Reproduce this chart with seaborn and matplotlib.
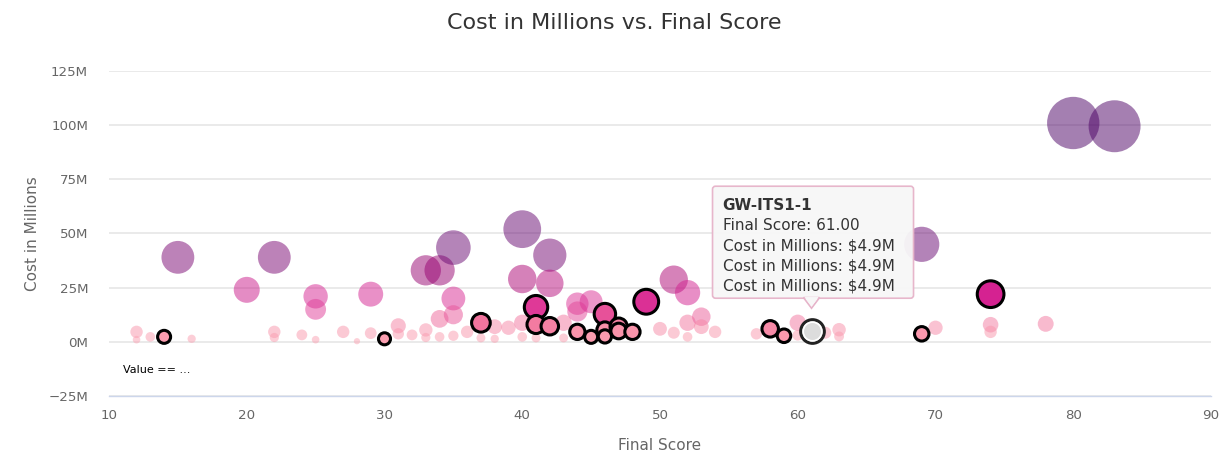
import matplotlib
matplotlib.use("Agg")
import matplotlib.pyplot as plt
import seaborn as sns
import pandas as pd
import numpy as np
from matplotlib.colors import LinearSegmentedColormap
from matplotlib.patches import FancyBboxPatch, Polygon
from matplotlib.ticker import FuncFormatter

# ---------------- data ----------------
score = [12, 12, 13, 15, 16, 20, 22, 22, 22, 24, 25, 25, 25, 27, 28, 29, 29, 31, 31, 32,
         33, 33, 33, 34, 34, 34, 35, 35, 35, 35, 36, 37, 38, 38, 39, 40, 40, 40, 40, 41,
         42, 42, 43, 43, 44, 44, 45, 50, 51, 51, 52, 52, 52, 53, 53, 54, 57, 60, 60, 62,
         63, 63, 69, 70, 74, 74, 78, 80, 83]
cost = [4.6, 1.0, 2.3, 39, 1.4, 24, 39, 4.6, 2.0, 3.2, 21, 15, 1.0, 4.6, 0.3, 22, 4.0, 7.4, 3.7, 3.2,
        33, 5.5, 2.0, 33, 10.6, 2.3, 43.5, 20, 12.5, 2.8, 4.6, 1.8, 7.0, 1.4, 6.5, 52, 29, 8.8, 2.3, 1.8,
        40, 27, 8.8, 1.8, 17.6, 14, 18.5, 6.0, 28.7, 4.2, 22.7, 8.8, 2.3, 11.6, 7.0, 4.6, 3.7, 8.8, 3.0, 4.2,
        5.6, 2.5, 45, 6.5, 7.9, 4.6, 8.3, 101, 99.5]

hl_score = [14, 30, 37, 41, 41, 42, 44, 45, 46, 46, 46, 47, 47, 48, 49, 58, 59, 69, 74]
hl_cost = [2.3, 1.4, 8.8, 16, 8.0, 7.2, 4.6, 2.3, 12.8, 5.5, 2.5, 7.0, 5.0, 4.6, 18.5, 6.0, 2.8, 3.7, 22]

hover_name = "GW-ITS1-1"
hover_score = [61]
hover_cost = [4.9]

y_ticks = [-25, 0, 25, 50, 75, 100, 125]
x_ticks = [10, 20, 30, 40, 50, 60, 70, 80, 90]

title = "Cost in Millions vs. Final Score"
x_title = "Final Score"
y_title = "Cost in Millions"
note_text = "Value == ..."

# ---------------- style ----------------
W, H = 1229, 462
sns.set_style("white")
plt.rcParams["font.family"] = ["DejaVu Sans"]

cmap = LinearSegmentedColormap.from_list("cost", [
    (0.0, "#fba3b3"), (5 / 101, "#f992aa"), (10 / 101, "#ef6a9a"), (15 / 101, "#e03c98"),
    (22 / 101, "#d52191"), (30 / 101, "#a5006f"), (42 / 101, "#6b0a73"), (1.0, "#4b0065")])

fig = plt.figure(figsize=(W / 100, H / 100), dpi=100)
L, R, T, B = 109, 1211, 71, 396
ax = fig.add_axes([L / W, 1 - B / H, (R - L) / W, (B - T) / H])

df = pd.DataFrame({"score": score, "cost": cost})
dh = pd.DataFrame({"score": hl_score, "cost": hl_cost})
dv = pd.DataFrame({"score": hover_score, "cost": hover_cost})

common = dict(x="score", y="cost", hue="cost", size="cost", palette=cmap, hue_norm=(0, 101),
              size_norm=(0, 101), legend=False, ax=ax)
sns.scatterplot(data=df, alpha=0.5, linewidth=0, sizes=(16, 1420), **common)
sns.scatterplot(data=dh, edgecolor="black", linewidth=2.2, zorder=4, sizes=(55, 1500), **common)
sns.scatterplot(data=dv, x="score", y="cost", s=290, color="#dddddd", edgecolor="#222222",
                linewidth=2.2, legend=False, ax=ax, zorder=5)
sns.scatterplot(data=dv, x="score", y="cost", s=180, color="#dcdcdc", edgecolor="white",
                linewidth=1.2, legend=False, ax=ax, zorder=6)

ax.set_xlim(10, 90)
ax.set_ylim(-25, 125)
ax.set_xticks(x_ticks)
ax.set_yticks(y_ticks)
ax.yaxis.set_major_formatter(FuncFormatter(lambda v, p: f"{int(v)}M".replace("-", "\u2212")))
ax.grid(axis="y", color="#e6e6e6", linewidth=1.2)
ax.set_axisbelow(True)
for s in ["top", "right", "left"]:
    ax.spines[s].set_visible(False)
ax.spines["bottom"].set_color("#ccd6eb")
ax.spines["bottom"].set_linewidth(1)
ax.tick_params(axis="x", direction="out", length=7.2, width=0.8, color="#ccd6eb",
               labelcolor="#666666", labelsize=9.6, pad=2)
ax.tick_params(axis="y", length=0, labelcolor="#666666", labelsize=9.6, pad=15)
ax.set_xlabel(x_title, color="#666666", fontsize=11, labelpad=12)
ax.set_ylabel(y_title, color="#666666", fontsize=11, labelpad=6)

fig.text(0.5, 1 - 23 / H, title, ha="center", va="center", fontsize=16, color="#333333")
fig.text(123 / W, 1 - 370 / H, note_text, ha="left", va="center", fontsize=8, color="black")

# ---------------- tooltip ----------------
px, py = ax.transData.transform((hover_score[0], hover_cost[0]))
bx0, bx1 = px - 99, px + 102
by1 = py + 145
by0 = py + 33
box = FancyBboxPatch((bx0, by0), bx1 - bx0, by1 - by0, boxstyle="round,pad=0,rounding_size=3",
                     transform=None, facecolor="#f7f7f7", edgecolor="#e6b3c9", linewidth=1.2,
                     alpha=0.95, zorder=10)
fig.patches.append(box)
tri = Polygon([(px - 8, by0 + 0.6), (px + 8, by0 + 0.6), (px, by0 - 10)], closed=True,
              transform=None, facecolor="#f7f7f7", edgecolor="#e6b3c9", linewidth=1.2, zorder=10)
fig.patches.append(tri)
cover = Polygon([(px - 7, by0 + 1.2), (px + 7, by0 + 1.2), (px, by0 - 8.5)], closed=True,
                transform=None, facecolor="#f7f7f7", edgecolor="none", zorder=11)
fig.patches.append(cover)

lines = [(hover_name, "bold"),
         (f"Final Score: {hover_score[0]:.2f}", "normal"),
         (f"Cost in Millions: ${hover_cost[0]}M", "normal"),
         (f"Cost in Millions: ${hover_cost[0]}M", "normal"),
         (f"Cost in Millions: ${hover_cost[0]}M", "normal")]
for i, (txt, wgt) in enumerate(lines):
    fig.text((bx0 + 10) / W, (by1 - 19 - i * 20.3) / H, txt, ha="left", va="center",
             fontsize=11, color="#333333", fontweight=wgt, zorder=12)

fig.savefig("out.png", dpi=100)
